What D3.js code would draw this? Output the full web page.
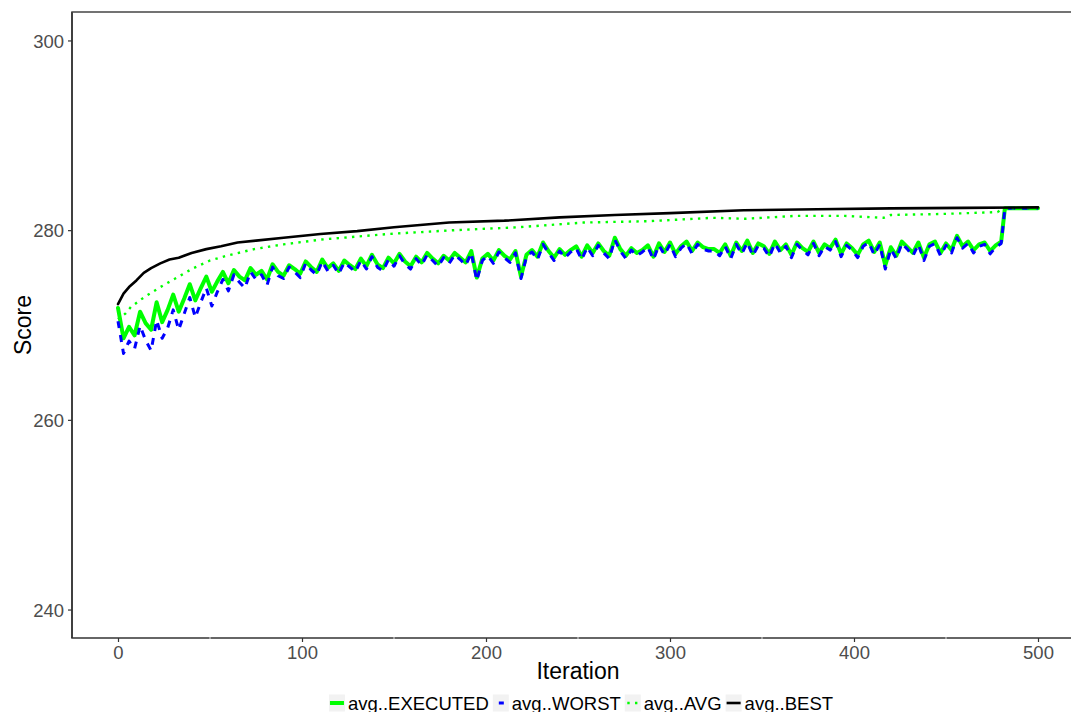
<!DOCTYPE html>
<html>
<head>
<meta charset="utf-8">
<script src="https://cdn.jsdelivr.net/npm/d3@7"></script>
<style>
  body { margin: 0; background: #fff; }
  svg text { font-family: "Liberation Sans", Arial, sans-serif; }
</style>
</head>
<body>
<svg id="chart" width="1071" height="712"></svg>
<script>
// iterations are sampled every 3 steps up to 480 for the noisy series
const noisyStep = 3;

const executedValues = [
  271.8,268.6,269.8,268.9,271.4,270.2,269.5,272.4,270.3,271.6,
  273.2,271.4,272.8,274.3,272.6,273.9,275.1,273.5,274.6,275.6,
  274.4,275.8,275.1,274.7,276.0,275.3,275.7,274.8,276.4,275.6,
  275.2,276.3,275.9,275.4,276.7,276.1,275.6,276.9,276.0,276.5,
  275.7,276.8,276.3,275.9,277.0,276.2,277.4,276.4,276.0,277.1,
  276.5,277.5,276.7,276.2,277.2,276.6,277.6,277.0,276.5,277.3,
  276.8,277.6,277.1,276.6,277.8,275.0,277.0,277.5,276.8,277.9,
  277.3,276.9,277.8,275.1,277.4,277.9,277.2,278.7,277.8,277.1,
  278.0,277.4,277.9,278.3,277.2,278.4,277.6,278.6,277.8,277.3,
  279.2,278.0,277.3,278.1,277.6,277.9,278.4,277.2,278.6,277.7,
  278.7,277.5,278.3,278.8,277.8,278.7,278.2,278.0,278.0,277.6,
  278.5,277.3,278.7,277.8,278.9,277.6,278.6,278.3,277.5,278.8,
  277.9,278.5,277.4,278.7,278.1,277.7,278.8,277.6,278.5,278.1,
  279.0,277.5,278.6,278.1,277.4,278.5,278.9,277.7,278.7,276.3,
  278.2,277.3,278.8,278.2,277.6,278.7,277.1,278.5,278.8,277.6,
  278.6,277.9,279.4,278.3,278.8,277.9,278.5,278.7,277.8,278.4,
  278.8
];

const worstValues = [
  270.4,267.0,268.3,267.5,269.9,268.4,267.3,270.5,268.6,269.7,
  271.6,269.5,271.2,272.9,270.8,272.4,273.9,272.0,273.5,274.8,
  273.6,275.3,274.5,273.9,275.6,274.8,275.3,274.2,276.1,275.2,
  274.9,276.1,275.6,275.0,276.5,275.8,275.3,276.7,275.7,276.3,
  275.4,276.6,276.1,275.6,276.8,275.9,277.2,276.1,275.7,276.9,
  276.2,277.3,276.4,275.9,277.0,276.3,277.4,276.8,276.2,277.1,
  276.5,277.4,276.9,276.3,277.6,274.7,276.8,277.3,276.5,277.7,
  277.1,276.6,277.6,274.9,277.2,277.7,276.9,278.5,277.6,276.8,
  277.8,277.1,277.7,278.1,276.9,278.2,277.3,278.4,277.6,277.0,
  279.0,277.8,277.0,277.9,277.3,277.7,278.2,276.9,278.4,277.4,
  278.5,277.2,278.1,278.6,277.5,278.5,278.0,277.8,277.8,277.3,
  278.3,277.0,278.5,277.5,278.7,277.3,278.4,278.1,277.2,278.6,
  277.6,278.3,277.1,278.5,277.9,277.4,278.6,277.3,278.3,277.9,
  278.8,277.2,278.4,277.9,277.1,278.3,278.7,277.4,278.5,275.9,
  278.0,277.0,278.6,278.0,277.3,278.5,276.8,278.3,278.6,277.3,
  278.4,277.6,279.2,278.1,278.6,277.6,278.3,278.5,277.5,278.2,
  278.6
];

// after iteration 481 every series sits on the best score
const tailIter = [482, 500];
const tailExecuted = [282.3, 282.3];
const tailWorst = [282.3, 282.3];

const avgIter = [0,4,7,14,23,32,41,50,59,74,90,110,147,183,217,253,289,323,341,368,395,416,420,447,478,481,500];
const avgValues = [270.6,271.2,271.9,272.9,274.0,275.0,276.0,276.8,277.3,278.0,278.5,279.0,279.6,280.0,280.3,280.8,280.95,281.3,281.2,281.5,281.5,281.3,281.6,281.7,281.9,282.3,282.3];

const bestIter = [0,3,6,10,14,18,23,28,33,40,48,56,65,75,90,110,130,150,180,210,240,270,300,340,380,420,460,500];
const bestValues = [272.2,273.3,274.0,274.7,275.5,276.0,276.5,276.9,277.1,277.6,278.0,278.3,278.7,278.9,279.2,279.6,279.9,280.3,280.8,281.0,281.35,281.6,281.8,282.1,282.2,282.3,282.35,282.4];

const xTicks = [0, 100, 200, 300, 400, 500];
const yTicks = [240, 260, 280, 300];

const legendLabels = ["avg..EXECUTED", "avg..WORST", "avg..AVG", "avg..BEST"];

const panel = { left: 72, top: 12, right: 1084, bottom: 638 };
const W = 1071, H = 712;

const x = d3.scaleLinear().domain([-25, 525]).range([panel.left, panel.right]);
const y = d3.scaleLinear().domain([237, 303]).range([panel.bottom, panel.top]);

const svg = d3.select("#chart");

svg.append("defs").append("clipPath").attr("id", "clip")
  .append("rect")
  .attr("x", panel.left).attr("y", panel.top)
  .attr("width", panel.right - panel.left).attr("height", panel.bottom - panel.top);

// build point lists
const executed = executedValues.map((v, i) => [i * noisyStep, v])
  .concat(tailIter.map((t, i) => [t, tailExecuted[i]]));
const worst = worstValues.map((v, i) => [i * noisyStep, v])
  .concat(tailIter.map((t, i) => [t, tailWorst[i]]));
const avg = avgIter.map((t, i) => [t, avgValues[i]]);
const best = bestIter.map((t, i) => [t, bestValues[i]]);

const line = d3.line().x(d => x(d[0])).y(d => y(d[1]));

const series = [
  { name: "avg..EXECUTED", data: executed, color: "#00ff00", width: 4, dash: null, cap: "round" },
  { name: "avg..WORST", data: worst, color: "#0000ff", width: 3, dash: "7,7", cap: "butt" },
  { name: "avg..AVG", data: avg, color: "#00ff00", width: 2.4, dash: "2.4,5.3", cap: "butt" },
  { name: "avg..BEST", data: best, color: "#000000", width: 2.6, dash: null, cap: "round" }
];

const g = svg.append("g").attr("clip-path", "url(#clip)");
g.selectAll("path")
  .data(series)
  .join("path")
  .attr("d", d => line(d.data))
  .attr("fill", "none")
  .attr("stroke", d => d.color)
  .attr("stroke-width", d => d.width)
  .attr("stroke-dasharray", d => d.dash)
  .attr("stroke-linecap", d => d.cap)
  .attr("stroke-linejoin", "round");

// axis lines
svg.append("line")
  .attr("x1", panel.left).attr("x2", panel.left)
  .attr("y1", panel.top).attr("y2", panel.bottom)
  .attr("stroke", "#000").attr("stroke-width", 1.5);
svg.append("line")
  .attr("x1", panel.left - 0.75).attr("x2", W)
  .attr("y1", panel.bottom).attr("y2", panel.bottom)
  .attr("stroke", "#333").attr("stroke-width", 1.5);
svg.append("line")
  .attr("x1", panel.left - 0.75).attr("x2", W)
  .attr("y1", panel.top).attr("y2", panel.top)
  .attr("stroke", "#444").attr("stroke-width", 1.6);

// white breaks where the minor grid meets the bottom axis
svg.selectAll(".gap")
  .data([50, 150, 250, 350, 450])
  .join("line")
  .attr("x1", d => x(d)).attr("x2", d => x(d))
  .attr("y1", panel.bottom - 1).attr("y2", panel.bottom + 1)
  .attr("stroke", "#fff").attr("stroke-width", 0.8);

// x axis
const xAxis = d3.axisBottom(x).tickValues(xTicks).tickSize(4).tickPadding(4);
const xg = svg.append("g").attr("transform", `translate(0,${panel.bottom})`).call(xAxis);
xg.select(".domain").remove();
xg.selectAll(".tick line").attr("stroke", "#333").attr("stroke-width", 1.2);
xg.selectAll(".tick text")
  .attr("fill", "#4d4d4d")
  .style("font-size", "18.5px")
  .style("font-family", "'Liberation Sans', Arial, sans-serif");

// y axis
const yAxis = d3.axisLeft(y).tickValues(yTicks).tickSize(4).tickPadding(4);
const yg = svg.append("g").attr("transform", `translate(${panel.left},0)`).call(yAxis);
yg.select(".domain").remove();
yg.selectAll(".tick line").attr("stroke", "#333").attr("stroke-width", 1.2);
yg.selectAll(".tick text")
  .attr("fill", "#4d4d4d")
  .attr("dy", "0.36em")
  .style("font-size", "18.5px")
  .style("font-family", "'Liberation Sans', Arial, sans-serif");

// axis titles
svg.append("text")
  .attr("x", (panel.left + panel.right) / 2)
  .attr("y", 679)
  .attr("text-anchor", "middle")
  .style("font-size", "23px")
  .text("Iteration");

svg.append("text")
  .attr("transform", `translate(31,${(panel.top + panel.bottom) / 2}) rotate(-90)`)
  .attr("text-anchor", "middle")
  .style("font-size", "23px")
  .text("Score");

// legend
const legend = svg.append("g");
const keyW = 16, keyH = 17, legendY = 703;
const items = legend.selectAll("g.item")
  .data(series)
  .join("g")
  .attr("class", "item");

items.append("rect")
  .attr("x", 0).attr("y", legendY - keyH / 2)
  .attr("width", keyW).attr("height", keyH)
  .attr("fill", "#f2f2f2");

items.append("line")
  .attr("x1", 1).attr("x2", keyW - 1)
  .attr("y1", legendY).attr("y2", legendY)
  .attr("stroke", d => d.color)
  .attr("stroke-width", d => d.width)
  .attr("stroke-dasharray", (d, i) => i === 1 ? "5,20" : i === 2 ? "2.4,5.3" : null)
  .attr("stroke-dashoffset", (d, i) => i === 1 ? -5 : i === 2 ? -1.5 : 0);

items.append("text")
  .attr("x", keyW + 3)
  .attr("y", legendY + 6.5)
  .style("font-size", "18.5px")
  .attr("fill", "#000")
  .text((d, i) => legendLabels[i]);

let widths = [];
items.each(function () {
  widths.push(keyW + 3 + d3.select(this).select("text").node().getComputedTextLength());
});
const gapBetween = 4;
const total = d3.sum(widths) + gapBetween * (widths.length - 1);
let cx = 581 - total / 2;
items.attr("transform", (d, i) => {
  const t = `translate(${cx},0)`;
  cx += widths[i] + gapBetween;
  return t;
});
</script>
</body>
</html>
